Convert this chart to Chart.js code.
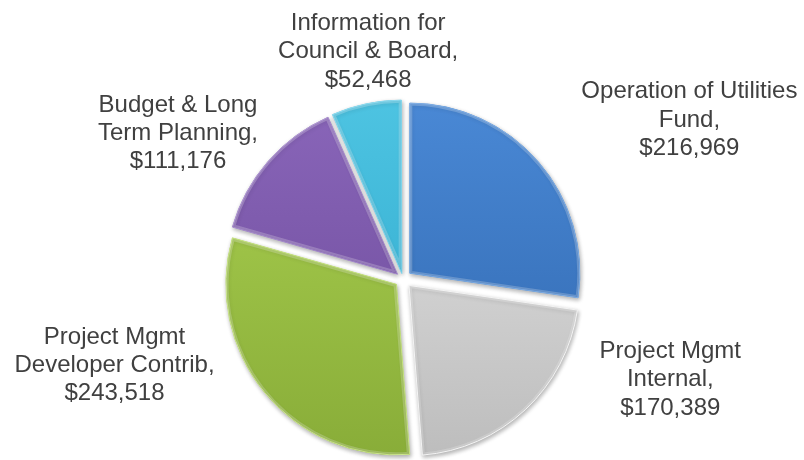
<!DOCTYPE html>
<html>
<head>
<meta charset="utf-8">
<title>Costs by Activity</title>
<script src="https://cdn.jsdelivr.net/npm/chart.js@4/dist/chart.umd.min.js"></script>
<style>
  html, body { margin: 0; padding: 0; background: #ffffff; }
  #wrap { position: relative; width: 804px; height: 460px; }
</style>
</head>
<body>
<div id="wrap"><canvas id="pie" width="804" height="460"></canvas></div>
<script>
// Activity categories (line breaks mark where each label wraps)
const categories = [
  'Operation of Utilities\nFund',
  'Project Mgmt\nInternal',
  'Project Mgmt\nDeveloper Contrib',
  'Budget & Long\nTerm Planning',
  'Information for\nCouncil & Board'
];

// Dollar amounts per activity
const amounts = [216969, 170389, 243518, 111176, 52468];

// Slice fills: light (top) and dark (bottom) gradient stops
const topColors    = ['#4a89d6', '#e4e4e4', '#aad050', '#8a66ba', '#4ec4e2'];
const bottomColors = ['#2f66ad', '#bcbcbc', '#88ac38', '#6a4997', '#2ba6ca'];
const edgeColors   = ['#6aa0e0', '#f2f2f2', '#c2e07a', '#a488cc', '#7ad4ec'];

// Label nudges from the slice's outer mid point (px)
const labelShift = [
  [151, -44],
  [145, -32],
  [-150, -29],
  [-90, -30],
  [2, -54]
];

const sliceGap = 9;      // how far every slice is pulled out from the centre
const total = amounts.reduce((a, b) => a + b, 0);

// Chart.js moves an arc by offset/4 * (1 + (1 - sin(circumference))),
// so pick the offset that yields the same pull-out for every slice.
function sliceOffset(ctx) {
  const circ = amounts[ctx.dataIndex] / total * Math.PI * 2;
  const fix = 1 - Math.sin(Math.min(Math.PI, circ));
  return 4 * sliceGap / (1 + fix);
}

function sliceFill(ctx) {
  const i = ctx.dataIndex;
  const area = ctx.chart.chartArea;
  if (!area) return topColors[i];
  const g = ctx.chart.ctx.createLinearGradient(0, area.top, 0, area.bottom);
  g.addColorStop(0, topColors[i]);
  g.addColorStop(1, bottomColors[i]);
  return g;
}

function money(v) {
  return '$' + v.toLocaleString('en-US');
}

function slicePath(c, p) {
  const mid = (p.startAngle + p.endAngle) / 2;
  const ox = p.x + Math.cos(mid) * sliceGap;
  const oy = p.y + Math.sin(mid) * sliceGap;
  c.beginPath();
  c.moveTo(ox, oy);
  c.arc(ox, oy, p.outerRadius, p.startAngle, p.endAngle);
  c.closePath();
}

// Soft drop shadow under the slices
const shadowPlugin = {
  id: 'sliceShadow',
  beforeDatasetsDraw(chart) {
    const c = chart.ctx;
    c.save();
    c.shadowColor = 'rgba(0,0,0,0.30)';
    c.shadowBlur = 4;
    c.shadowOffsetX = 1;
    c.shadowOffsetY = 2;
  },
  afterDatasetsDraw(chart) {
    chart.ctx.restore();
  }
};

// Light bevel along the inside of each slice edge
const bevelPlugin = {
  id: 'sliceBevel',
  afterDatasetsDraw(chart) {
    const c = chart.ctx;
    chart.getDatasetMeta(0).data.forEach(arc => {
      const p = arc.getProps(['x', 'y', 'startAngle', 'endAngle', 'outerRadius'], true);
      c.save();
      slicePath(c, p);
      c.clip();
      slicePath(c, p);
      c.lineWidth = 5;
      c.strokeStyle = 'rgba(255,255,255,0.22)';
      c.stroke();
      c.restore();
    });
  }
};

// Category / value labels placed outside each slice
const outsideLabels = {
  id: 'outsideLabels',
  afterDraw(chart) {
    const c = chart.ctx;
    const meta = chart.getDatasetMeta(0);
    const lineH = 28.3;
    c.save();
    c.font = '24px "Liberation Sans", Arial, sans-serif';
    c.fillStyle = '#404040';
    c.textAlign = 'center';
    c.textBaseline = 'alphabetic';
    meta.data.forEach((arc, i) => {
      const p = arc.getProps(['x', 'y', 'startAngle', 'endAngle', 'outerRadius'], true);
      const mid = (p.startAngle + p.endAngle) / 2;
      const r = p.outerRadius + sliceGap;
      const cx = p.x + Math.cos(mid) * r + labelShift[i][0];
      const cy = p.y + Math.sin(mid) * r + labelShift[i][1];
      const lines = categories[i].split('\n');
      lines[lines.length - 1] += ',';
      lines.push(money(amounts[i]));
      const first = cy - (lines.length - 1) * lineH / 2 + 8.6;
      lines.forEach((t, k) => c.fillText(t, cx, first + k * lineH));
    });
    c.restore();
  }
};

new Chart(document.getElementById('pie'), {
  type: 'pie',
  data: {
    labels: categories.map(s => s.replace('\n', ' ')),
    datasets: [{
      data: amounts,
      backgroundColor: sliceFill,
      borderColor: edgeColors,
      borderWidth: 1,
      offset: sliceOffset
    }]
  },
  options: {
    responsive: false,
    animation: false,
    radius: 170,
    layout: { padding: { top: 100, bottom: 2, left: 228, right: 226 } },
    plugins: {
      legend: { display: false },
      tooltip: { enabled: false }
    }
  },
  plugins: [shadowPlugin, bevelPlugin, outsideLabels]
});
</script>
</body>
</html>
